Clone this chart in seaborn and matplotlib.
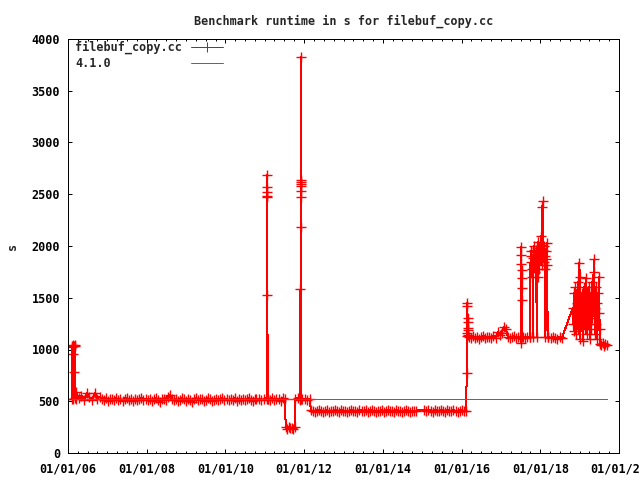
import matplotlib
matplotlib.use("Agg")
import pandas as pd
import matplotlib.pyplot as plt
import matplotlib.dates as mdates
import seaborn as sns

TITLE = "Benchmark runtime in s for filebuf_copy.cc"
SERIES_LABEL = "filebuf_copy.cc"
BASELINE_LABEL = "4.1.0"
baseline_runtime = 520

# runtimes (s) of the benchmark runs, one list per stretch of runs
runs_2006_start = [525, 1030, 1025, 960, 1040, 520, 780, 1035, 1045, 1030, 530, 520]
runs_2006 = [590, 530, 555, 515, 575, 540, 510, 580, 525, 545]
runs_2007 = [520, 515, 530, 505, 520, 525, 510, 530, 515, 520, 500, 525, 535, 515,
             520, 505, 525, 510, 520, 530, 515, 520]
runs_2008_09 = [515, 525, 505, 520, 530, 510, 495, 520, 525, 515, 545, 560, 520, 510,
                525, 500, 515, 530, 520, 505, 525, 515, 495, 520, 530, 510, 520, 525,
                505, 515, 530, 520, 500, 515, 525, 510, 520, 530, 515]
runs_2010 = [520, 510, 525, 515, 530, 505, 520, 515, 525, 510, 520, 530, 515, 505, 520]
runs_2010_late = [520, 525, 510, 520, 530]
spike_2011 = [2690, 2570, 2520, 2480, 2470, 520, 1530, 525]
runs_2011 = [520, 515, 530, 510, 525, 520, 505, 530, 520]
dip_2011 = [250, 235, 255, 240, 245, 230, 250]
runs_2011_late = [520, 530, 515]
spike_2012 = [1580, 520, 2180, 2640, 2620, 2580, 2530, 2470, 3830, 2600, 520]
runs_2012_early = [520, 525, 515, 520]
runs_2012_14 = [415, 405, 400, 410, 420, 405, 395, 410, 415, 400, 410, 405, 420, 410,
                400, 415, 405, 410, 395, 410, 420, 405, 410, 400, 415, 410, 405, 420,
                400, 410, 415, 405, 395, 410, 405, 415, 400, 410, 420, 405, 410, 400,
                415, 405, 410, 395, 410, 415, 405, 400, 410, 405]
runs_2014_late = [410]
runs_2015 = [415, 405, 420, 410, 400, 415, 410, 405, 415]
runs_2015_late = [410, 400, 415, 405, 410, 420, 405, 400, 410, 415, 405, 410]
jump_2016 = [770, 1450, 1160, 1420, 1130, 1300, 1270, 1210, 1190, 1140]
runs_2016_17 = [1120, 1110, 1130, 1115, 1125, 1105, 1120, 1135, 1110, 1120, 1125, 1115,
                1130, 1110, 1170, 1140, 1160, 1215, 1200, 1125, 1115, 1120, 1130, 1110,
                1125, 1120]
spike_2017 = [1060, 1990, 1910, 1830, 1770, 1690, 1590, 1480, 1120]
runs_2017 = [1120, 1115, 1125, 1120]
cluster_2018 = [1120, 1900, 1850, 1950, 1780, 1700, 1880, 1120, 1960, 2000, 1820, 1750,
                1900, 1860, 1940, 1120, 1980, 1700, 1850, 2040, 1920, 1780, 1880, 1950,
                2010, 2100, 1820, 1900, 2380, 2430, 1960, 1850, 2000, 1900, 1780, 1120,
                1870, 1950, 2030, 1820, 1120]
runs_2018 = [1120, 1110, 1125, 1115, 1105, 1120, 1110]
cluster_2019 = [1400, 1250, 1550, 1180, 1350, 1600, 1150, 1450, 1300, 1650, 1200, 1500,
                1840, 1700, 1100, 1400, 1250, 1550, 1350, 1080, 1450, 1600, 1200, 1300,
                1500, 1690, 1150, 1400, 1250, 1600, 1350, 1100, 1450, 1550, 1200, 1650,
                1300, 1500, 1750, 1870, 1400, 1150, 1600, 1250, 1450, 1100, 1550, 1350,
                1700, 1200]
runs_2019 = [1050, 1040, 1065, 1035, 1055, 1045]

# (first run, last run, runtimes)
stretches = [
    ("2006-02-05", "2006-03-12", runs_2006_start),
    ("2006-03-16", "2006-10-25", runs_2006),
    ("2006-11-08", "2007-12-22", runs_2007),
    ("2008-01-12", "2009-12-18", runs_2008_09),
    ("2010-01-12", "2010-09-28", runs_2010),
    ("2010-10-15", "2011-01-17", runs_2010_late),
    ("2011-01-19", "2011-01-27", spike_2011),
    ("2011-01-30", "2011-07-08", runs_2011),
    ("2011-07-14", "2011-10-06", dip_2011),
    ("2011-10-12", "2011-11-24", runs_2011_late),
    ("2011-11-27", "2011-12-06", spike_2012),
    ("2011-12-10", "2012-02-25", runs_2012_early),
    ("2012-03-02", "2014-10-20", runs_2012_14),
    ("2014-11-08", "2014-11-08", runs_2014_late),
    ("2015-01-20", "2015-06-25", runs_2015),
    ("2015-07-12", "2016-02-12", runs_2015_late),
    ("2016-02-18", "2016-03-03", jump_2016),
    ("2016-03-08", "2017-06-28", runs_2016_17),
    ("2017-07-06", "2017-07-16", spike_2017),
    ("2017-07-20", "2017-09-24", runs_2017),
    ("2017-09-28", "2018-03-10", cluster_2018),
    ("2018-03-16", "2018-07-20", runs_2018),
    ("2018-10-28", "2019-07-05", cluster_2019),
    ("2019-07-08", "2019-09-08", runs_2019),
]

frames = []
for first, last, values in stretches:
    dates = pd.date_range(first, last, periods=len(values))
    frames.append(pd.DataFrame({"date": dates, "runtime": values}))
df = pd.concat(frames, ignore_index=True)
df["baseline"] = baseline_runtime

sns.set_theme(style="ticks")
FONT = 8.5
plt.rcParams["font.family"] = ["DejaVu Sans Mono", "DejaVu Sans"]
plt.rcParams.update({
    "font.weight": "bold",
    "axes.edgecolor": "black",
    "axes.linewidth": 0.72,
    "xtick.direction": "in", "ytick.direction": "in",
    "xtick.top": True, "ytick.right": True,
    "xtick.color": "black", "ytick.color": "black",
    "xtick.major.size": 3.2, "ytick.major.size": 3.2,
    "xtick.minor.size": 1.7,
    "xtick.major.width": 0.72, "ytick.major.width": 0.72,
    "xtick.minor.width": 0.72,
    "xtick.major.pad": 7, "ytick.major.pad": 5.8,
    "xtick.labelsize": FONT, "ytick.labelsize": FONT,
})

fig = plt.figure(figsize=(6.4, 4.8), dpi=100)
ax = fig.add_axes([68 / 640, 27 / 480, 551 / 640, 414 / 480])

sns.lineplot(data=df, x="date", y="runtime", ax=ax, color="#ff0000",
             marker="+", markersize=6.5, markeredgewidth=1.0,
             markeredgecolor="#ff0000", linewidth=0.72, antialiased=False,
             estimator=None, sort=False, label=SERIES_LABEL)
sns.lineplot(data=df, x="date", y="baseline", ax=ax, color="#00b000",
             linewidth=0.72, antialiased=False, estimator=None, sort=False,
             label=BASELINE_LABEL)

ax.set_xlim(pd.Timestamp("2006-01-01"), pd.Timestamp("2020-01-01"))
ax.set_ylim(0, 4000)
ax.set_yticks(range(0, 4001, 500))
ax.xaxis.set_major_locator(mdates.YearLocator(2))
ax.xaxis.set_minor_locator(mdates.MonthLocator(bymonth=[1, 4, 7, 10]))
ax.xaxis.set_major_formatter(mdates.DateFormatter("%m/%d/%y"))
ax.tick_params(axis="x", which="minor", top=True)

ax.set_xlabel("")
ax.set_ylabel("s", fontsize=FONT, fontweight="bold", labelpad=9)
ax.set_title(TITLE, fontsize=FONT, fontweight="bold", pad=10)

handles, labels = ax.get_legend_handles_labels()
leg = ax.legend(handles, labels, loc="upper left", bbox_to_anchor=(0.0127, 0.995),
                frameon=False, markerfirst=False, handlelength=2.7,
                handletextpad=0.8, borderpad=0, borderaxespad=0,
                labelspacing=0.2, prop={"size": FONT, "weight": "bold"})
for h in leg.legend_handles:
    h.set_markeredgewidth(0.72)

# gnuplot keeps key text left-aligned with samples in one column
fig.canvas.draw()
rows = leg._legend_handle_box.get_children()[0].get_children()
widths = [t.get_window_extent().width for t in leg.get_texts()]
for row, w in zip(rows, widths):
    row.sep += (max(widths) - w) * 72 / fig.dpi

fig.savefig("out.png", dpi=100)
